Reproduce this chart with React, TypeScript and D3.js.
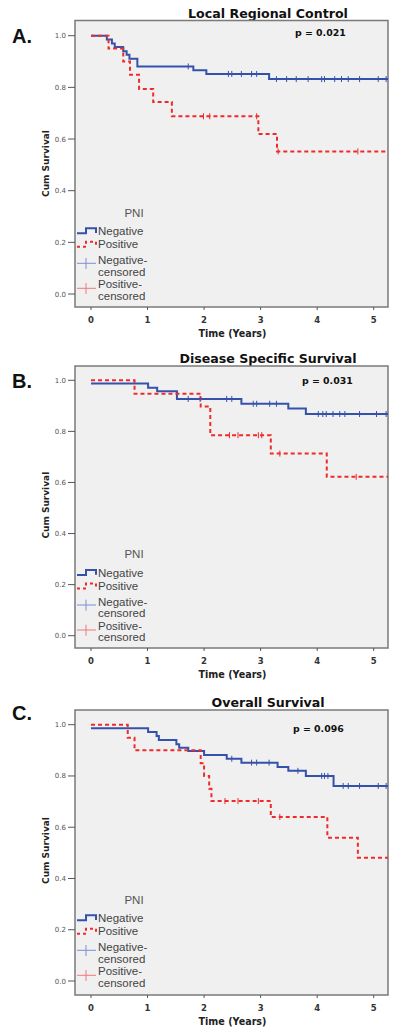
import React from "react";
import * as d3 from "d3";

// ---------- data ----------
const X_TICKS = [0, 1, 2, 3, 4, 5];
const Y_TICKS = [0, 0.2, 0.4, 0.6, 0.8, 1.0];
const LEGEND_TITLE = "PNI";
const GROUP_LABELS = ["Negative", "Positive"];
const CENSOR_LABELS = [["Negative-", "censored"], ["Positive-", "censored"]];

const A_TITLE = "Local Regional Control";
const A_LETTER = "A.";
const A_P = "p = 0.021";
const A_NEG_T = [0, 0.28, 0.37, 0.42, 0.57, 0.63, 0.68, 0.82, 1.81, 2.04, 3.15, 5.3];
const A_NEG_S = [1.0, 0.985, 0.97, 0.956, 0.94, 0.926, 0.911, 0.881, 0.866, 0.852, 0.832, 0.832];
const A_NEG_C = [1.72, 2.43, 2.49, 2.66, 2.84, 2.93, 3.28, 3.46, 3.63, 3.84, 4.08, 4.13, 4.31, 4.43, 4.55, 4.75, 5.08, 5.22];
const A_POS_T = [0, 0.31, 0.57, 0.69, 0.85, 1.1, 1.43, 2.96, 3.29, 5.3];
const A_POS_S = [1.0, 0.95, 0.9, 0.849, 0.794, 0.743, 0.688, 0.619, 0.552, 0.552];
const A_POS_C = [1.99, 2.1, 2.93, 3.31, 4.72];

const B_TITLE = "Disease Specific Survival";
const B_LETTER = "B.";
const B_P = "p = 0.031";
const B_NEG_T = [0, 1.01, 1.17, 1.52, 2.66, 3.49, 3.8, 5.3];
const B_NEG_S = [0.987, 0.971, 0.957, 0.927, 0.908, 0.89, 0.868, 0.868];
const B_NEG_C = [1.72, 1.93, 2.4, 2.49, 2.87, 2.93, 3.16, 3.28, 4.02, 4.1, 4.16, 4.28, 4.4, 4.49, 4.75, 5.05, 5.22];
const B_POS_T = [0, 0.77, 1.94, 2.11, 3.18, 4.17, 5.3];
const B_POS_S = [1.0, 0.947, 0.897, 0.785, 0.713, 0.622, 0.622];
const B_POS_C = [2.45, 2.6, 2.96, 3.02, 3.34, 4.69];

const C_TITLE = "Overall Survival";
const C_LETTER = "C.";
const C_P = "p = 0.096";
const C_NEG_T = [0, 1.01, 1.16, 1.2, 1.51, 1.56, 1.72, 2.0, 2.4, 2.66, 3.3, 3.49, 3.8, 4.29, 5.3];
const C_NEG_S = [0.986, 0.972, 0.956, 0.94, 0.924, 0.91, 0.897, 0.882, 0.867, 0.852, 0.835, 0.82, 0.8, 0.761, 0.761];
const C_NEG_C = [2.49, 2.84, 2.93, 3.15, 3.66, 4.08, 4.13, 4.19, 4.46, 4.55, 4.75, 5.08, 5.22];
const C_POS_T = [0, 0.65, 0.77, 1.94, 2.0, 2.09, 2.13, 3.18, 4.18, 4.72, 5.3];
const C_POS_S = [1.0, 0.949, 0.9, 0.85, 0.8, 0.75, 0.702, 0.64, 0.559, 0.481, 0.481];
const C_POS_C = [2.37, 2.6, 2.96, 3.34];

// ---------- styles ----------
const BLUE = "#3552ab";
const RED = "#ee2b2b";
const BLUE_LIGHT = "#7d8fd2";
const RED_LIGHT = "#f07878";
const BG = "#f0f0f0";
const BOLD_FONT = "'DejaVu Sans', Verdana, sans-serif";
const LEG_FONT = "'Liberation Sans', Arial, sans-serif";
const LEG_SIZE = 11.5;

type Layout = {
  boxTop: number; boxBottom: number; y1: number; y0: number;
  titleY: number; letterY: number; pX: number; pY: number;
};

const LAYOUTS: Layout[] = [
  { boxTop: 20.5, boxBottom: 307, y1: 35.7, y0: 294, titleY: 17.5, letterY: 43, pX: 295, pY: 36 },
  { boxTop: 366, boxBottom: 648, y1: 380.3, y0: 635.7, titleY: 362.5, letterY: 388, pX: 302, pY: 384 },
  { boxTop: 710, boxBottom: 995, y1: 724.7, y0: 981, titleY: 707, letterY: 720, pX: 293, pY: 732 },
];

const BOX_L = 75;
const BOX_R = 388;
const x = d3.scaleLinear().domain([0, 5]).range([91, 373.7]);

type PanelProps = {
  idx: number; L: Layout; title: string; letter: string; p: string;
  negT: number[]; negS: number[]; negC: number[];
  posT: number[]; posS: number[]; posC: number[];
};

function survAt(t: number, ts: number[], ss: number[]) {
  const i = d3.bisectRight(ts, t) - 1;
  return ss[Math.max(0, i)];
}

function Panel({ idx, L, title, letter, p, negT, negS, negC, posT, posS, posC }: PanelProps) {
  const y = d3.scaleLinear().domain([0, 1]).range([L.y0, L.y1]);
  const line = d3
    .line<[number, number]>()
    .x((d) => x(d[0]))
    .y((d) => y(d[1]))
    .curve(d3.curveStepAfter);
  const negPts = negT.map((t, i) => [t, negS[i]] as [number, number]);
  const posPts = posT.map((t, i) => [t, posS[i]] as [number, number]);
  const clipId = `clip-${idx}`;
  const cx = (BOX_L + BOX_R) / 2;
  const lg = (dy: number) => L.y0 + dy;

  return (
    <g>
      <defs>
        <clipPath id={clipId}>
          <rect x={BOX_L} y={L.boxTop} width={BOX_R - BOX_L} height={L.boxBottom - L.boxTop} />
        </clipPath>
      </defs>
      <text x={12} y={L.letterY} fontFamily={LEG_FONT} fontWeight="bold" fontSize={20} fill="#111">
        {letter}
      </text>
      <text x={268} y={L.titleY} textAnchor="middle" fontFamily={BOLD_FONT} fontWeight="bold" fontSize={12.6} fill="#111">
        {title}
      </text>
      <rect x={BOX_L} y={L.boxTop} width={BOX_R - BOX_L} height={L.boxBottom - L.boxTop} fill={BG} stroke="#7a7a7a" strokeWidth={1.5} />
      {/* y axis */}
      {Y_TICKS.map((v) => (
        <g key={`y${v}`}>
          <line x1={68} x2={BOX_L} y1={y(v)} y2={y(v)} stroke="#555" strokeWidth={1} />
          <text x={66} y={y(v) + 2.5} textAnchor="end" fontFamily={BOLD_FONT} fontSize={7} fill="#555">
            {v.toFixed(1)}
          </text>
        </g>
      ))}
      <text
        transform={`translate(49,${L.y0 - 130.5}) rotate(-90)`}
        textAnchor="middle"
        fontFamily={BOLD_FONT}
        fontWeight="bold"
        fontSize={9}
        fill="#222"
      >
        Cum Survival
      </text>
      {/* x axis */}
      {X_TICKS.map((v) => (
        <g key={`x${v}`}>
          <line x1={x(v)} x2={x(v)} y1={L.boxBottom} y2={L.boxBottom + 3} stroke="#555" strokeWidth={1} />
          <text x={x(v)} y={L.boxBottom + 15.5} textAnchor="middle" fontFamily={BOLD_FONT} fontWeight="bold" fontSize={8.5} fill="#333">
            {v}
          </text>
        </g>
      ))}
      <text x={cx + 1} y={L.boxBottom + 29.5} textAnchor="middle" fontFamily={BOLD_FONT} fontWeight="bold" fontSize={9.6} fill="#222">
        Time (Years)
      </text>
      {/* curves */}
      <g clipPath={`url(#${clipId})`}>
        <path d={line(negPts) || ""} fill="none" stroke={BLUE} strokeWidth={2} />
        <path d={line(posPts) || ""} fill="none" stroke={RED} strokeWidth={2} strokeDasharray="4,3" />
        {negC.map((t, i) => {
          const yy = y(survAt(t, negT, negS));
          return <line key={`nc${i}`} x1={x(t)} x2={x(t)} y1={yy - 3} y2={yy + 3} stroke={BLUE} strokeWidth={1} />;
        })}
        {posC.map((t, i) => {
          const yy = y(survAt(t, posT, posS));
          return <line key={`pc${i}`} x1={x(t)} x2={x(t)} y1={yy - 3} y2={yy + 3} stroke={RED} strokeWidth={1} />;
        })}
      </g>
      <text x={L.pX} y={L.pY} fontFamily={BOLD_FONT} fontWeight="bold" fontSize={9.4} fill="#111">
        {p}
      </text>
      {/* legend */}
      <text x={134} y={lg(-77.5)} textAnchor="middle" fontFamily={LEG_FONT} fontSize={LEG_SIZE} fill="#555">
        {LEGEND_TITLE}
      </text>
      <path d={`M77,${lg(-60.7)}H86V${lg(-65.7)}H96V${lg(-61)}`} fill="none" stroke={BLUE} strokeWidth={2} />
      <text x={98} y={lg(-59)} fontFamily={LEG_FONT} fontSize={LEG_SIZE} fill="#444">{GROUP_LABELS[0]}</text>
      <path d={`M77,${lg(-47.3)}H86V${lg(-52.3)}H96V${lg(-48)}`} fill="none" stroke={RED} strokeWidth={2} strokeDasharray="3,3" />
      <text x={98} y={lg(-46)} fontFamily={LEG_FONT} fontSize={LEG_SIZE} fill="#444">{GROUP_LABELS[1]}</text>
      <line x1={77} x2={96} y1={lg(-30.7)} y2={lg(-30.7)} stroke={BLUE_LIGHT} strokeWidth={1} />
      <line x1={86} x2={86} y1={lg(-36)} y2={lg(-25)} stroke={BLUE_LIGHT} strokeWidth={1} />
      <text x={98} y={lg(-30)} fontFamily={LEG_FONT} fontSize={LEG_SIZE} fill="#444">{CENSOR_LABELS[0][0]}</text>
      <text x={98} y={lg(-18.5)} fontFamily={LEG_FONT} fontSize={LEG_SIZE} fill="#444">{CENSOR_LABELS[0][1]}</text>
      <line x1={77} x2={96} y1={lg(-5.7)} y2={lg(-5.7)} stroke={RED_LIGHT} strokeWidth={1} />
      <line x1={86} x2={86} y1={lg(-11)} y2={lg(0)} stroke={RED_LIGHT} strokeWidth={1} />
      <text x={98} y={lg(-6)} fontFamily={LEG_FONT} fontSize={LEG_SIZE} fill="#444">{CENSOR_LABELS[1][0]}</text>
      <text x={98} y={lg(5.5)} fontFamily={LEG_FONT} fontSize={LEG_SIZE} fill="#444">{CENSOR_LABELS[1][1]}</text>
    </g>
  );
}

export default function App() {
  const panels = [
    { title: A_TITLE, letter: A_LETTER, p: A_P, negT: A_NEG_T, negS: A_NEG_S, negC: A_NEG_C, posT: A_POS_T, posS: A_POS_S, posC: A_POS_C },
    { title: B_TITLE, letter: B_LETTER, p: B_P, negT: B_NEG_T, negS: B_NEG_S, negC: B_NEG_C, posT: B_POS_T, posS: B_POS_S, posC: B_POS_C },
    { title: C_TITLE, letter: C_LETTER, p: C_P, negT: C_NEG_T, negS: C_NEG_S, negC: C_NEG_C, posT: C_POS_T, posS: C_POS_S, posC: C_POS_C },
  ];
  return (
    <svg width={400} height={1036} style={{ position: "absolute", left: 0, top: 0, background: "#fff" }}>
      <rect width={400} height={1036} fill="#fff" />
      {panels.map((pp, i) => (
        <Panel key={i} idx={i} L={LAYOUTS[i]} {...pp} />
      ))}
    </svg>
  );
}
